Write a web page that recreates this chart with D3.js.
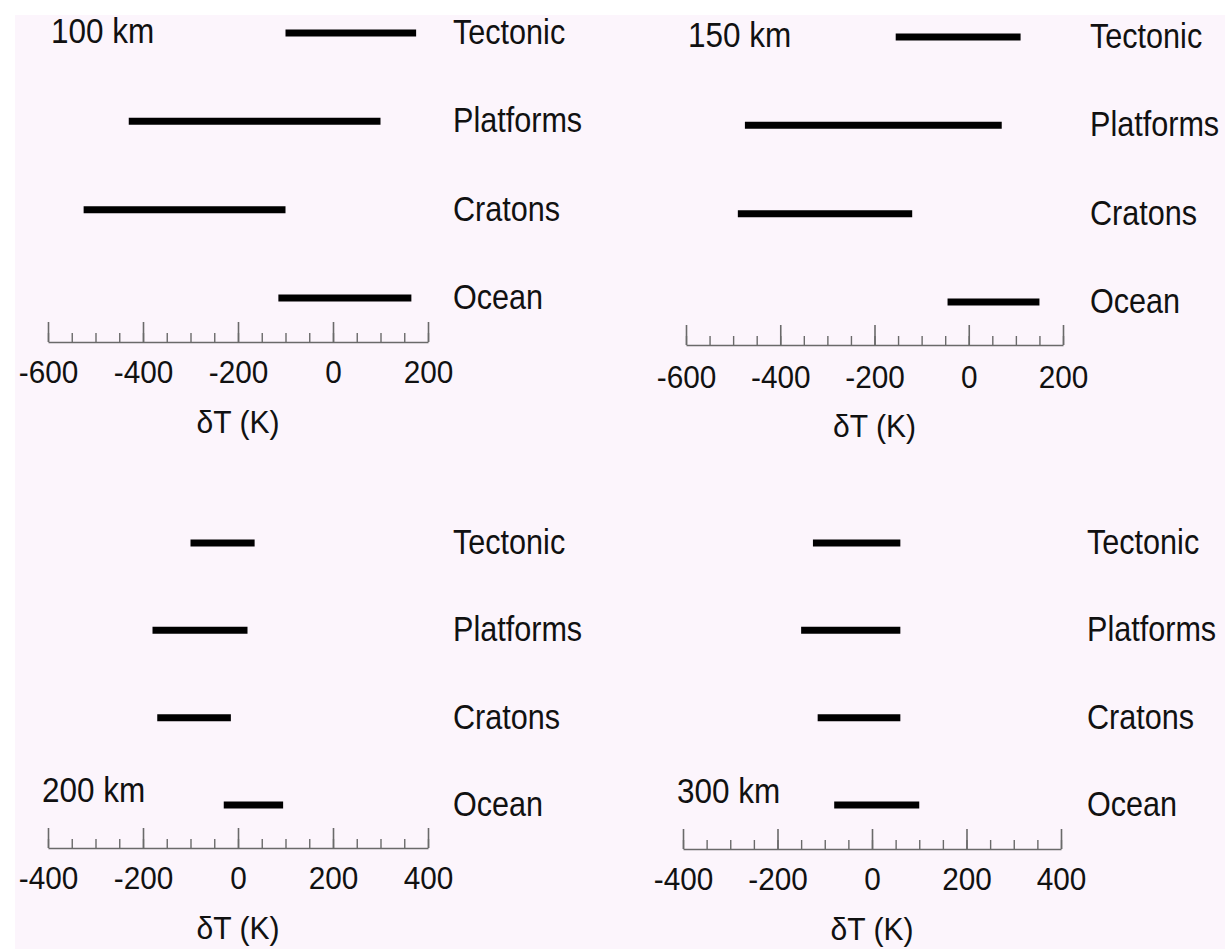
<!DOCTYPE html>
<html>
<head>
<meta charset="utf-8">
<script src="https://cdn.jsdelivr.net/npm/d3@7"></script>
<style>
  html, body { margin: 0; padding: 0; background: #ffffff; }
  svg { display: block; }
</style>
</head>
<body>
<svg id="chart" width="1225" height="949"></svg>
<script>
// Temperature anomaly ranges by tectonic setting at four depths
const categories = ["Tectonic", "Platforms", "Cratons", "Ocean"];
const depthLabels = ["100 km", "150 km", "200 km", "300 km"];

// [min, max] δT in K, in the order of `categories`
const range100 = [[-100, 175], [-430, 100], [-525, -100], [-115, 165]];
const range150 = [[-155, 110], [-475, 70], [-490, -120], [-45, 150]];
const range200 = [[-100, 35], [-180, 20], [-170, -15], [-30, 95]];
const range300 = [[-125, 60], [-150, 60], [-115, 60], [-80, 100]];

const domainShallow = [-600, 200];
const domainDeep = [-400, 400];
const majorTicksShallow = [-600, -400, -200, 0, 200];
const majorTicksDeep = [-400, -200, 0, 200, 400];
const axisTitle = "δT (K)";

// Panel placement on the page
const panels = [
  { depth: depthLabels[0], ranges: range100, domain: domainShallow, major: majorTicksShallow,
    x0: 48, x1: 428, axisY: 342, rowTop: 33, rowBottom: 298, labelX: 453,
    depthX: 51, depthY: 43, tickY: 41, titleY: 91 },
  { depth: depthLabels[1], ranges: range150, domain: domainShallow, major: majorTicksShallow,
    x0: 686, x1: 1063, axisY: 345, rowTop: 37, rowBottom: 302, labelX: 1090,
    depthX: 688, depthY: 47, tickY: 43, titleY: 92 },
  { depth: depthLabels[2], ranges: range200, domain: domainDeep, major: majorTicksDeep,
    x0: 48, x1: 428, axisY: 848, rowTop: 543, rowBottom: 805, labelX: 453,
    depthX: 42, depthY: 802, tickY: 41, titleY: 91 },
  { depth: depthLabels[3], ranges: range300, domain: domainDeep, major: majorTicksDeep,
    x0: 683, x1: 1061, axisY: 849, rowTop: 543, rowBottom: 805, labelX: 1087,
    depthX: 677, depthY: 803, tickY: 41, titleY: 91 }
];

const FONT = "'Liberation Sans', Arial, Helvetica, sans-serif";
const INK = "#111";
const AXIS_GREY = "#6a6a6a";

const svg = d3.select("#chart");

// page background
svg.append("rect").attr("width", 1225).attr("height", 949).attr("fill", "#ffffff");
svg.append("rect").attr("x", 15).attr("y", 15).attr("width", 1210).attr("height", 934)
  .attr("fill", "#fcf5fc");

panels.forEach(p => {
  const g = svg.append("g");
  const x = d3.scaleLinear().domain(p.domain).range([p.x0, p.x1]);
  const y = d3.scalePoint().domain(categories).range([p.rowTop, p.rowBottom]);

  // minor ticks every 50 K
  const minor = g.append("g")
    .attr("transform", `translate(0,${p.axisY})`)
    .call(d3.axisBottom(x).tickValues(x.ticks(16)).tickSizeInner(-9).tickSizeOuter(0).tickFormat(""));
  minor.select(".domain").attr("stroke", AXIS_GREY).attr("stroke-width", 1.6);
  minor.selectAll(".tick line").attr("stroke", AXIS_GREY).attr("stroke-width", 1.4);

  // major ticks with labels
  const major = g.append("g")
    .attr("transform", `translate(0,${p.axisY})`)
    .call(d3.axisBottom(x).tickValues(p.major).tickSizeInner(-20).tickSizeOuter(0).tickPadding(0)
      .tickFormat(d3.format("d")));
  major.select(".domain").remove();
  major.selectAll(".tick line").attr("stroke", AXIS_GREY).attr("stroke-width", 1.6);
  major.selectAll(".tick text")
    .attr("y", p.tickY).attr("dy", 0)
    .attr("transform", "scale(0.93,1)")
    .attr("fill", INK)
    .style("font-family", FONT)
    .style("font-size", "32px")
    .text(d => d < 0 ? "-" + Math.abs(d) : String(d));

  // axis title
  g.append("text")
    .attr("transform", `translate(${(p.x0 + p.x1) / 2},${p.axisY + p.titleY}) scale(0.94,1)`)
    .attr("text-anchor", "middle")
    .attr("fill", INK)
    .style("font-family", FONT)
    .style("font-size", "32px")
    .text(axisTitle);

  // range bars
  g.selectAll("line.bar")
    .data(categories.map((c, i) => ({ cat: c, lo: p.ranges[i][0], hi: p.ranges[i][1] })))
    .join("line")
    .attr("class", "bar")
    .attr("x1", d => x(d.lo))
    .attr("x2", d => x(d.hi))
    .attr("y1", d => y(d.cat))
    .attr("y2", d => y(d.cat))
    .attr("stroke", "#000")
    .attr("stroke-width", 7);

  // category labels
  g.selectAll("text.cat")
    .data(categories)
    .join("text")
    .attr("class", "cat")
    .attr("transform", d => `translate(${p.labelX},${y(d) + 11}) scale(0.85,1)`)
    .attr("fill", INK)
    .style("font-family", FONT)
    .style("font-size", "36px")
    .text(d => d);

  // depth label
  g.append("text")
    .attr("transform", `translate(${p.depthX},${p.depthY}) scale(0.9,1)`)
    .attr("fill", INK)
    .style("font-family", FONT)
    .style("font-size", "35px")
    .text(p.depth);
});
</script>
</body>
</html>
